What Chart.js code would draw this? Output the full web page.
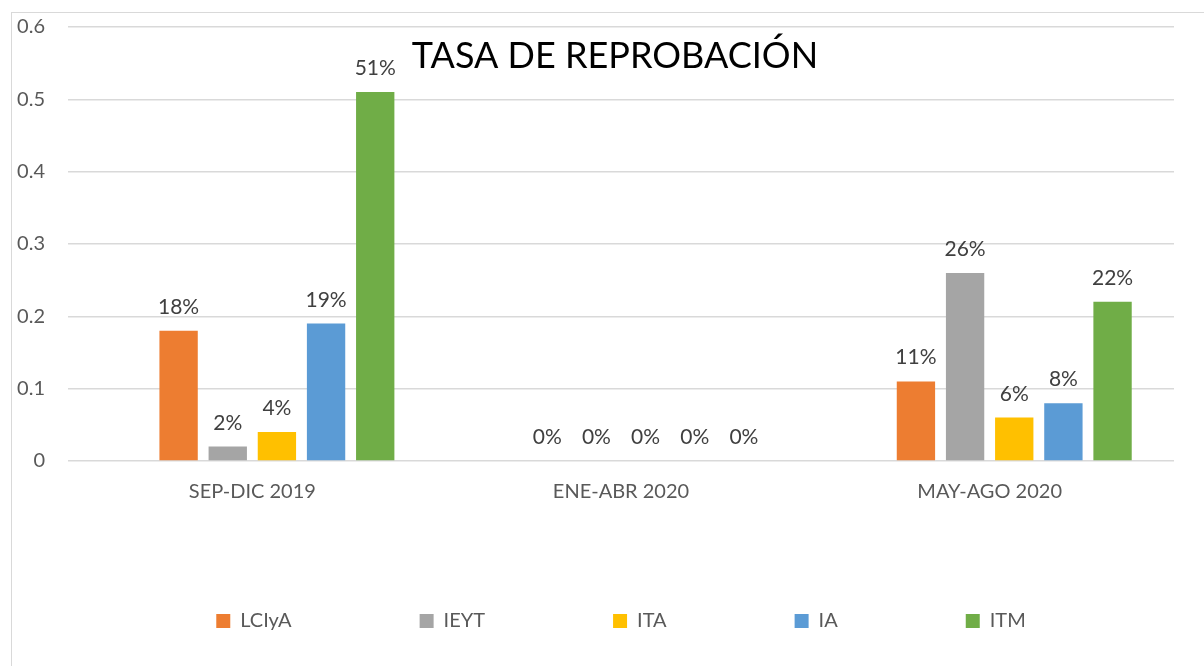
<!DOCTYPE html>
<html lang="es">
<head>
<meta charset="UTF-8">
<title>Tasa de reprobación</title>
<script src="https://cdn.jsdelivr.net/npm/chart.js"></script>
<style>
  body { margin: 0; overflow: hidden; background: #fff; }
  .frame { position: absolute; left: 11px; top: 12px; width: 1300px; height: 800px; border: 1.5px solid #d9d9d9; }
  .chart-container { position: absolute; left: 0; top: 0; width: 1204px; height: 666px; }
</style>
</head>
<body>
<div class="frame"></div>
<div class="chart-container"><canvas id="reprobacionChart"></canvas></div>
<script>
const periodos = ['SEP-DIC 2019', 'ENE-ABR 2020', 'MAY-AGO 2020'];
const carreras = ['LCIyA', 'IEYT', 'ITA', 'IA', 'ITM'];
const colores = ['#ED7D31', '#A5A5A5', '#FFC000', '#5B9BD5', '#70AD47'];
const lciya = [0.18, 0, 0.11];
const ieyt = [0.02, 0, 0.26];
const ita = [0.04, 0, 0.06];
const ia = [0.19, 0, 0.08];
const itm = [0.51, 0, 0.22];
// the original has an empty first series, it leaves a gap left of each group
const serieVacia = [null, null, null];
const yMax = 0.6;
const yStep = 0.1;
const titulo = 'TASA DE REPROBACIÓN';

Chart.defaults.font.family = 'Lato';

const etiquetasPlugin = {
    id: 'etiquetas',
    afterDatasetsDraw(chart) {
        const ctx = chart.ctx;
        ctx.save();
        ctx.font = '21px Lato';
        ctx.fillStyle = '#404040';
        ctx.textAlign = 'center';
        ctx.textBaseline = 'alphabetic';
        chart.data.datasets.forEach((ds, i) => {
            chart.getDatasetMeta(i).data.forEach((bar, j) => {
                const v = ds.data[j];
                if (v === null) return;
                ctx.fillText(Math.round(v * 100) + '%', bar.x, bar.y - 17);
            });
        });
        ctx.restore();
    }
};

const tituloPlugin = {
    id: 'tituloDentro',
    afterDraw(chart) {
        const a = chart.chartArea;
        const ctx = chart.ctx;
        ctx.save();
        ctx.font = '36px Lato';
        ctx.fillStyle = '#000';
        ctx.textAlign = 'center';
        ctx.textBaseline = 'alphabetic';
        ctx.fillText(titulo, (a.left + a.right) / 2 - 6, a.top + 41);
        ctx.restore();
    }
};

const series = [lciya, ieyt, ita, ia, itm];
const datasets = [{ label: '', data: serieVacia, backgroundColor: '#fff' }].concat(
    carreras.map((c, i) => ({ label: c, data: series[i], backgroundColor: colores[i] }))
);

const ctx = document.getElementById('reprobacionChart').getContext('2d');
new Chart(ctx, {
    type: 'bar',
    data: { labels: periodos, datasets: datasets },
    options: {
        responsive: true,
        maintainAspectRatio: false,
        animation: false,
        layout: { padding: { left: 0, right: 30, top: 27, bottom: 25 } },
        datasets: { bar: { categoryPercentage: 0.8, barPercentage: 0.78 } },
        scales: {
            x: {
                grid: { display: false, drawTicks: false },
                border: { display: false },
                // mirrored so the labels are not clipped by the short axis box
                ticks: { color: '#595959', font: { size: 20 }, mirror: true, padding: -43 },
                afterFit(s) { s.height = 22; }
            },
            y: {
                min: 0,
                max: yMax,
                ticks: {
                    stepSize: yStep,
                    color: '#595959',
                    font: { size: 20 },
                    padding: 23,
                    callback: v => v === 0 ? '0' : String(+v.toFixed(1))
                },
                grid: { color: '#d9d9d9', lineWidth: 1.5, drawTicks: false },
                border: { display: false },
                afterFit(s) { s.width = 68; s.paddingTop = 0; }
            }
        },
        plugins: {
            legend: {
                position: 'bottom',
                fullSize: false,
                labels: {
                    boxWidth: 14,
                    boxHeight: 14,
                    padding: 128,
                    color: '#595959',
                    font: { size: 20 },
                    filter: item => item.datasetIndex > 0
                }
            },
            tooltip: { enabled: false }
        }
    },
    plugins: [etiquetasPlugin, tituloPlugin]
});
</script>
</body>
</html>
